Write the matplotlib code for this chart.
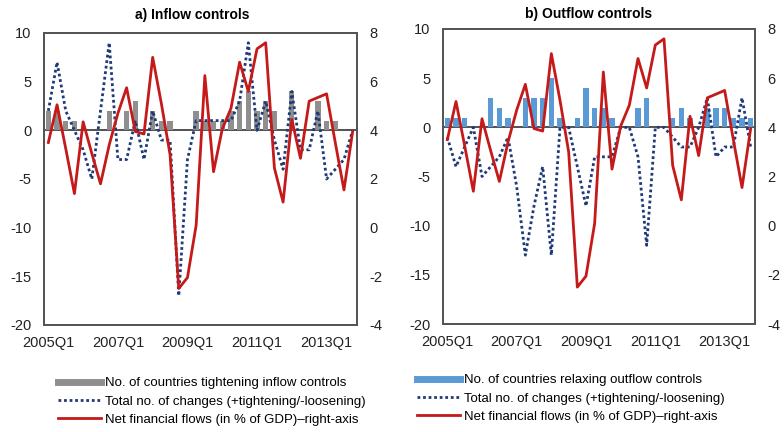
import matplotlib
matplotlib.use("Agg")
import matplotlib.pyplot as plt
from matplotlib.lines import Line2D

plt.rcParams['font.family'] = ['Liberation Sans', 'DejaVu Sans']

# Quarterly categories, 2005Q1 - 2013Q4
quarters = [f"{y}Q{q}" for y in range(2005, 2014) for q in range(1, 5)]
tick_labels = ["2005Q1", "2007Q1", "2009Q1", "2011Q1", "2013Q1"]

# Net financial flows, % of GDP (right axis) - same series on both panels
net_flows = [3.5, 5.05, 3.25, 1.4, 4.35, 3.05, 1.8, 3.4, 4.7, 5.75,
             3.95, 3.85, 7.0, 5.1, 3.0, -2.5, -2.05, 0.1, 6.25, 2.3,
             4.05, 4.9, 6.8, 5.6, 7.35, 7.6, 2.45, 1.05, 4.45, 2.85,
             5.2, 5.35, 5.5, 3.5, 1.55, 3.95]

# Inflow controls
inflow_tightening = [2, 2, 1, 1, 0, 0, 0, 2, 0, 2,
                     3, 0, 2, 1, 1, 0, 0, 2, 1, 1,
                     1, 2, 3, 4, 2, 3, 2, 0, 4, 0,
                     0, 3, 1, 1, 0, 0]
inflow_total = [2, 7, 2, 0, -2, -5, 2, 9, -3, -3,
                1, -3, 2, -1, -1, -17, -3, 1, 1, 1,
                1, 1, 3, 9, 0, 3, -1, -4, 4, -2,
                -2, 2, -5, -4, -3, 0]

# Outflow controls
outflow_relaxing = [1, 1, 1, 0, 0, 3, 2, 1, 0, 3,
                    3, 3, 5, 1, 0, 1, 4, 2, 2, 1,
                    0, 0, 2, 3, 0, 0, 1, 2, 1, 0,
                    2, 2, 2, 1, 1, 1]
outflow_total = [-1, -4, -2, 0, -5, -4, -3, -1, -6, -13,
                 -8, -4, -13, 0, 0, -4, -8, -3, -3, -3,
                 0, 0, -3, -12, 0, 0, -1, -2, -2, 0,
                 3, -3, -2, -2, 3, -2]

GRAY = "#8f8f8f"
BLUE = "#5b9bd5"
NAVY = "#1f3a78"
RED = "#c41a1a"
FRAME = "#555555"

fig = plt.figure(figsize=(7.84, 4.32), dpi=100)


def draw_panel(rect, bars, total, bar_color, title, title_xy, bar_label, legend_xy):
    ax = fig.add_axes(rect)
    x = list(range(len(quarters)))
    ax.bar(x, bars, width=0.62, color=bar_color, zorder=2)
    ax.plot(x, total, color=NAVY, lw=2, linestyle=(0, (1, 1)), zorder=3)
    ax.axhline(0, color="#333333", lw=1.2, zorder=1)
    ax.set_xlim(-0.5, len(quarters) - 0.5)
    ax.set_ylim(-20, 10)
    ax.set_yticks(range(-20, 11, 5))
    ax.set_yticklabels([str(v) for v in range(-20, 11, 5)])
    ax.set_xticks([quarters.index(t) for t in tick_labels])
    ax.set_xticklabels(tick_labels)
    ax.tick_params(axis="y", length=0, pad=9, labelsize=10.5, colors="#222222")
    ax.tick_params(axis="x", length=0, pad=8, labelsize=10.5, colors="#222222")

    ax2 = ax.twinx()
    ax2.plot(x, net_flows, color=RED, lw=2, zorder=4)
    ax2.set_ylim(-4, 8)
    ax2.set_yticks(range(-4, 9, 2))
    ax2.set_yticklabels([str(v) for v in range(-4, 9, 2)])
    ax2.tick_params(axis="y", length=0, pad=9, labelsize=10.5, colors="#222222")

    for a in (ax, ax2):
        for s in a.spines.values():
            s.set_color(FRAME)
            s.set_linewidth(1.4)

    fig.text(title_xy[0], title_xy[1], title, ha="center", va="center",
             fontsize=10, fontweight="bold")

    handles = [
        Line2D([], [], color=bar_color, lw=5),
        Line2D([], [], color=NAVY, lw=2, linestyle=(0, (1, 1))),
        Line2D([], [], color=RED, lw=2),
    ]
    labels = [
        bar_label,
        "Total no. of changes (+tightening/-loosening)",
        "Net financial flows (in % of GDP)\u2013right-axis",
    ]
    fig.legend(handles, labels, loc="upper left", bbox_to_anchor=legend_xy,
               frameon=False, fontsize=9.5, handlelength=3.25, handletextpad=0.3,
               labelspacing=0.47, borderpad=0, borderaxespad=0)
    return ax, ax2


draw_panel([44 / 784, 1 - 325 / 432, 313 / 784, 292 / 432],
           inflow_tightening, inflow_total, GRAY, "a) Inflow controls",
           (192 / 784, 1 - 15 / 432),
           "No. of countries tightening inflow controls",
           (58 / 784, 1 - 377 / 432))

draw_panel([443 / 784, 1 - 324 / 432, 312 / 784, 295 / 432],
           outflow_relaxing, outflow_total, BLUE, "b) Outflow controls",
           (589 / 784, 1 - 14 / 432),
           "No. of countries relaxing outflow controls",
           (417 / 784, 1 - 374 / 432))

fig.savefig("out.png", dpi=100)
